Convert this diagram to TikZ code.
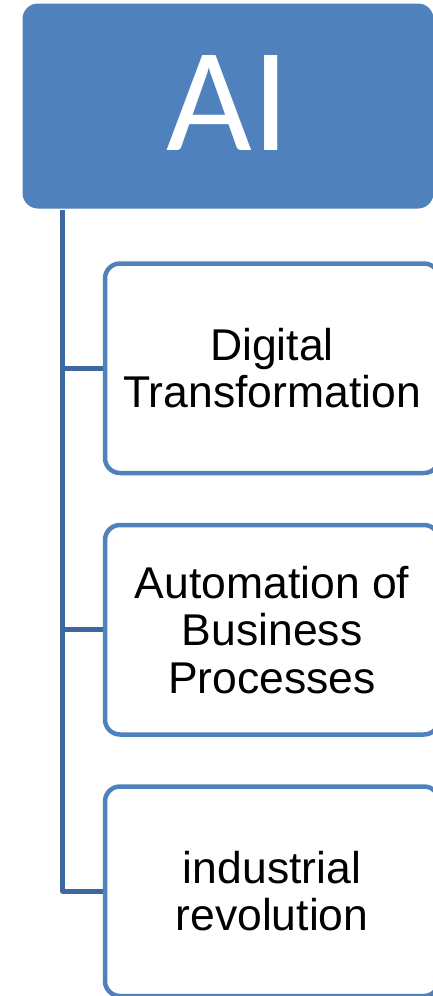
\documentclass[tikz,border=0pt]{standalone}
\usepackage{fontspec}
\usetikzlibrary{backgrounds}
\setmainfont{Liberation Sans}
\newfontfamily\titlefont{Carlito}
\definecolor{boxblue}{RGB}{79,129,189}
\definecolor{linkblue}{RGB}{61,103,158}
\begin{document}
\begin{tikzpicture}[x=1pt,y=-1pt,
  topbox/.style={draw=boxblue,fill=boxblue,line width=1pt,rounded corners=15pt,
    minimum width=410pt,minimum height=204pt,inner sep=0pt,outer sep=0pt,
    text=white,font=\titlefont\fontsize{148}{150}\selectfont},
  childbox/.style={draw=boxblue,fill=white,line width=4.5pt,rounded corners=15pt,
    minimum width=334pt,minimum height=209.5pt,inner sep=0pt,outer sep=0pt,
    align=center,text=black,font=\fontsize{44.5}{47.5}\selectfont},
  conn/.style={draw=linkblue,line width=4.6pt,line join=round}]
\useasboundingbox (0,0) rectangle (433,996);
\node[topbox] (ai) at (228,106) {\raisebox{6.5pt}{AI}};
\coordinate (spine) at (62.7,210);
\node[childbox] (c1) at (272,368.25) {Digital\\Transformation};
\node[childbox] (c2) at (272,629.75) {Automation of\\Business\\Processes};
\node[childbox] (c3) at (272,891.25) {industrial\\revolution};
\begin{scope}[on background layer]
\draw[conn] (spine) |- (c3.west);
\draw[conn] (spine |- c1.west) -- (c1.west);
\draw[conn] (spine |- c2.west) -- (c2.west);
\end{scope}
\end{tikzpicture}
\end{document}
